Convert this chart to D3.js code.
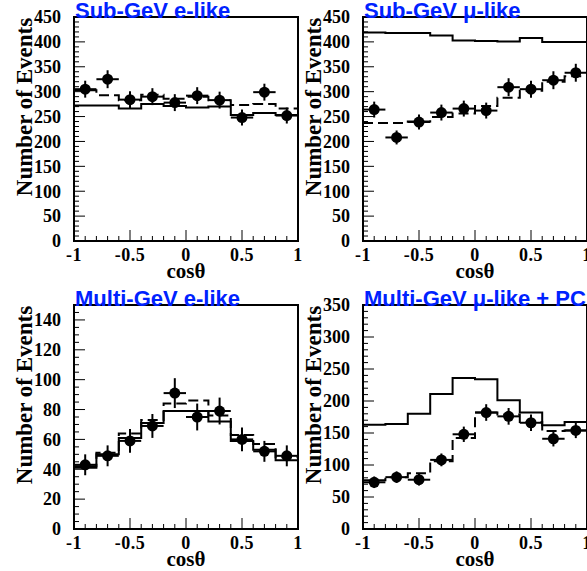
<!DOCTYPE html>
<html>
<head>
<meta charset="utf-8">
<script src="https://cdn.jsdelivr.net/npm/d3@7"></script>
<style>
  body { margin: 0; background: #fff; }
  svg { display: block; }
  .title { font-family: "Liberation Sans", Arial, sans-serif; font-weight: bold; font-size: 22px; fill: #0022ff; }
  .lbl { font-family: "Liberation Serif", "Times New Roman", serif; font-weight: bold; fill: #000; }
</style>
</head>
<body>
<div id="content"></div>
<script>
const width = 587;
const height = 571;

// 10 zenith-angle bins of width 0.2, given by their centres
const cosBins = [-0.9, -0.7, -0.5, -0.3, -0.1, 0.1, 0.3, 0.5, 0.7, 0.9];
const xTicks = [-1, -0.5, 0, 0.5, 1];
const xTickLabels = ["-1", "-0.5", "0", "0.5", "1"];

// Sub-GeV e-like
const subEData = [305, 325, 284, 290, 278, 292, 283, 248, 299, 252];
const subEErr = [17, 18, 17, 17, 17, 17, 17, 16, 17, 16];
const subENoOsc = [272, 272, 266, 275, 271, 268, 270, 253, 257, 253];
const subEOsc = [303, 293, 283, 294, 286, 290, 283, 273, 275, 266];

// Sub-GeV mu-like
const subMuData = [264, 208, 239, 258, 266, 262, 309, 305, 323, 338];
const subMuErr = [16, 14, 15, 16, 16, 16, 18, 17, 18, 18];
const subMuNoOsc = [419, 418, 418, 413, 403, 402, 401, 408, 400, 400];
const subMuOsc = [237, 237, 240, 249, 256, 271, 288, 302, 320, 331];

// Multi-GeV e-like
const multiEData = [43, 49, 59, 69, 91, 75, 79, 60, 52, 49];
const multiEErr = [7, 7, 8, 8, 10, 9, 9, 8, 7, 7];
const multiENoOsc = [41, 50, 61, 71, 79, 79, 72, 59, 53, 46];
const multiEOsc = [42, 51, 64, 73, 84, 86, 76, 63, 57, 48];

// Multi-GeV mu-like + PC
const multiMuData = [73, 81, 77, 108, 148, 182, 176, 166, 141, 154];
const multiMuErr = [9, 9, 9, 10, 12, 13, 13, 13, 12, 12];
const multiMuNoOsc = [163, 164, 180, 211, 236, 234, 201, 182, 162, 167];
const multiMuOsc = [76, 81, 87, 106, 142, 182, 179, 167, 153, 154];

const titles = ["Sub-GeV e-like", "Sub-GeV \u03bc-like", "Multi-GeV e-like", "Multi-GeV \u03bc-like + PC"];
const yTicksSub = [0, 50, 100, 150, 200, 250, 300, 350, 400, 450];
const yTicksMultiE = [0, 20, 40, 60, 80, 100, 120, 140];
const yTicksMultiMu = [0, 50, 100, 150, 200, 250, 300, 350];

const panels = [
  { title: titles[0], data: subEData, err: subEErr, noOsc: subENoOsc, osc: subEOsc,
    yMax: 450, yTicks: yTicksSub, minor: 10, left: 74, top: 17, bottom: 241 },
  { title: titles[1], data: subMuData, err: subMuErr, noOsc: subMuNoOsc, osc: subMuOsc,
    yMax: 450, yTicks: yTicksSub, minor: 10, left: 363, top: 17, bottom: 241 },
  { title: titles[2], data: multiEData, err: multiEErr, noOsc: multiENoOsc, osc: multiEOsc,
    yMax: 150, yTicks: yTicksMultiE, minor: 5, left: 74, top: 305, bottom: 529 },
  { title: titles[3], data: multiMuData, err: multiMuErr, noOsc: multiMuNoOsc, osc: multiMuOsc,
    yMax: 350, yTicks: yTicksMultiMu, minor: 10, left: 363, top: 305, bottom: 529 }
];

const plotW = 224;

const svg = d3.select("#content")
  .append("svg")
  .attr("width", width)
  .attr("height", height);

panels.forEach(p => {
  const x = d3.scaleLinear().domain([-1, 1]).range([p.left, p.left + plotW]);
  const y = d3.scaleLinear().domain([0, p.yMax]).range([p.bottom, p.top]);
  const g = svg.append("g");

  // histograms: step lines over the bins
  const stepLine = d3.line()
    .x(d => x(d[0]))
    .y(d => y(d[1]))
    .curve(d3.curveStepAfter);
  const toSteps = vals => cosBins.map((c, i) => [c - 0.1, vals[i]])
    .concat([[1, vals[vals.length - 1]]]);

  g.append("path")
    .datum(toSteps(p.noOsc))
    .attr("d", stepLine)
    .attr("fill", "none")
    .attr("stroke", "#000")
    .attr("stroke-width", 2);

  g.append("path")
    .datum(toSteps(p.osc))
    .attr("d", stepLine)
    .attr("fill", "none")
    .attr("stroke", "#000")
    .attr("stroke-width", 2)
    .attr("stroke-dasharray", "10,5");

  // data points with error bars
  const pts = g.selectAll("g.pt")
    .data(cosBins.map((c, i) => ({ c, v: p.data[i], e: p.err[i] })))
    .enter().append("g")
    .attr("class", "pt");

  pts.append("line")
    .attr("x1", d => x(d.c - 0.1))
    .attr("x2", d => x(d.c + 0.1))
    .attr("y1", d => y(d.v))
    .attr("y2", d => y(d.v))
    .attr("stroke", "#000")
    .attr("stroke-width", 2);

  pts.append("line")
    .attr("x1", d => x(d.c))
    .attr("x2", d => x(d.c))
    .attr("y1", d => y(d.v - d.e))
    .attr("y2", d => y(d.v + d.e))
    .attr("stroke", "#000")
    .attr("stroke-width", 2);

  pts.append("circle")
    .attr("cx", d => x(d.c))
    .attr("cy", d => y(d.v))
    .attr("r", 5.5)
    .attr("fill", "#000");

  // ticks inside the frame
  const yMinor = d3.range(0, p.yMax + 0.001, p.minor);
  g.selectAll("line.ymin")
    .data(yMinor)
    .enter().append("line")
    .attr("x1", p.left)
    .attr("x2", d => p.left + (p.yTicks.includes(d) ? 11 : 5))
    .attr("y1", d => y(d))
    .attr("y2", d => y(d))
    .attr("stroke", "#000")
    .attr("stroke-width", 1);

  const xMinor = d3.range(-10, 11).map(k => k / 10);
  g.selectAll("line.xmin")
    .data(xMinor)
    .enter().append("line")
    .attr("x1", d => x(d))
    .attr("x2", d => x(d))
    .attr("y1", p.bottom)
    .attr("y2", d => p.bottom - (Math.abs(d * 2 - Math.round(d * 2)) < 1e-6 ? 11 : 5))
    .attr("stroke", "#000")
    .attr("stroke-width", 1);

  // frame
  g.append("rect")
    .attr("x", p.left)
    .attr("y", p.top)
    .attr("width", plotW)
    .attr("height", p.bottom - p.top)
    .attr("fill", "none")
    .attr("stroke", "#000")
    .attr("stroke-width", 2);

  // tick labels
  g.selectAll("text.yl")
    .data(p.yTicks)
    .enter().append("text")
    .attr("class", "lbl")
    .attr("x", p.left - 13)
    .attr("y", d => y(d))
    .attr("dy", "0.35em")
    .attr("text-anchor", "end")
    .style("font-size", "18px")
    .text(d => d);

  g.selectAll("text.xl")
    .data(xTicks)
    .enter().append("text")
    .attr("class", "lbl")
    .attr("x", d => x(d))
    .attr("y", p.bottom + 20)
    .attr("text-anchor", "middle")
    .style("font-size", "18px")
    .style("letter-spacing", "0.5px")
    .text((d, i) => xTickLabels[i]);

  // axis titles
  g.append("text")
    .attr("class", "lbl")
    .attr("transform", `translate(${p.left - 42},${p.top + 90}) rotate(-90)`)
    .attr("text-anchor", "middle")
    .style("font-size", "23px")
    .text("Number of Events");

  g.append("text")
    .attr("class", "lbl")
    .attr("x", p.left + plotW / 2)
    .attr("y", p.bottom + 37)
    .attr("text-anchor", "middle")
    .style("font-size", "21px")
    .text("cos\u03b8");

  // panel title
  g.append("text")
    .attr("class", "title")
    .attr("x", p.left + 1)
    .attr("y", p.top + 1)
    .text(p.title);
});
</script>
</body>
</html>
